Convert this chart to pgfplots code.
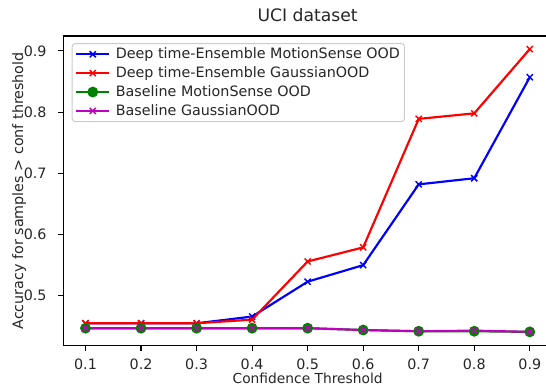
\documentclass[border=0pt]{standalone}
\usepackage{pgfplots}
\pgfplotsset{compat=1.18}
\usepackage{fontspec}
\setmainfont{DejaVu Sans}
\definecolor{mplgreen}{rgb}{0,0.5,0}
\definecolor{mplmag}{rgb}{0.75,0,0.75}
\begin{document}
\begin{tikzpicture}
\begin{axis}[
  at={(0pt,0pt)}, anchor=south west,
  scale only axis,
  width=488.7pt, height=309.7pt,
  xmin=0.06, xmax=0.94,
  ymin=0.4184, ymax=0.9244,
  xtick={0.1,0.2,0.3,0.4,0.5,0.6,0.7,0.8,0.9},
  ytick={0.5,0.6,0.7,0.8,0.9},
  /pgf/number format/assume math mode=true,
  xticklabel style={/pgf/number format/fixed,/pgf/number format/precision=1,/pgf/number format/fixed zerofill, anchor=base, yshift=-19pt, inner sep=0pt},
  yticklabel style={/pgf/number format/fixed,/pgf/number format/precision=1,/pgf/number format/fixed zerofill, anchor=east, xshift=-11.6pt, inner sep=0pt},
  xticklabel shift=0pt, yticklabel shift=0pt,
  tick label style={font=\fontsize{14.3}{16}\selectfont, text=black!85},
  label style={font=\fontsize{14.3}{16}\selectfont, text=black!85},
  tick align=outside,
  tick style={black, line width=1.15pt},
  major tick length=5pt,
  xtick pos=bottom, ytick pos=left,
  xlabel={Confidence Threshold},
  ylabel={Accuracy for samples\ > conf threshold},
  xlabel style={font=\fontsize{13.8}{16}\selectfont, at={(axis description cs:0.5,0)}, anchor=base, yshift=-38pt, inner sep=0pt},
  ylabel style={at={(axis description cs:0,0.5)}, anchor=center, yshift=44pt, inner sep=0pt},
  title={UCI dataset},
  title style={font=\fontsize{17.2}{20}\selectfont, text=black!85, at={(axis description cs:0.5,1)}, anchor=base, yshift=8pt},
  axis line style={black, line width=1.15pt},
  legend cell align=left,
  legend style={font=\fontsize{14.3}{16}\selectfont, text=black!85, draw=black!20, line width=1pt, rounded corners=3pt, at={(axis description cs:0.0172,0.977)}, anchor=north west, row sep=3.5pt, inner xsep=3pt, inner ysep=3pt, nodes={inner sep=1.5pt}},
  legend image code/.code={\draw[mark repeat=2, mark phase=2, #1] plot coordinates {(0pt,0pt) (16.5pt,0pt) (33pt,0pt)};},
  /tikz/every odd column/.append style={column sep=4pt},
  every axis plot/.append style={line width=2.16pt},
]
\addplot[blue, mark=x, mark size=4.3pt, mark options={line width=1.44pt}] coordinates {
(0.1,0.455) (0.2,0.455) (0.3,0.455) (0.4,0.466) (0.5,0.523) (0.6,0.550) (0.7,0.682) (0.8,0.692) (0.9,0.857)};
\addlegendentry{Deep time-Ensemble MotionSense OOD}
\addplot[red, mark=x, mark size=4.3pt, mark options={line width=1.44pt}] coordinates {
(0.1,0.455) (0.2,0.455) (0.3,0.455) (0.4,0.461) (0.5,0.556) (0.6,0.579) (0.7,0.789) (0.8,0.798) (0.9,0.903)};
\addlegendentry{Deep time-Ensemble GaussianOOD}
\addplot[mplgreen, mark=*, mark size=4.3pt] coordinates {
(0.1,0.447) (0.2,0.447) (0.3,0.447) (0.4,0.447) (0.5,0.447) (0.6,0.444) (0.7,0.442) (0.8,0.442) (0.9,0.441)};
\addlegendentry{Baseline MotionSense OOD}
\addplot[mplmag, mark=x, mark size=4.3pt, mark options={line width=1.44pt}] coordinates {
(0.1,0.447) (0.2,0.447) (0.3,0.447) (0.4,0.447) (0.5,0.447) (0.6,0.444) (0.7,0.442) (0.8,0.443) (0.9,0.441)};
\addlegendentry{Baseline GaussianOOD}
\end{axis}
\pgfresetboundingbox
\path (-63.3pt,-41.3pt) rectangle (482.7pt,345.7pt);
\end{tikzpicture}
\end{document}
